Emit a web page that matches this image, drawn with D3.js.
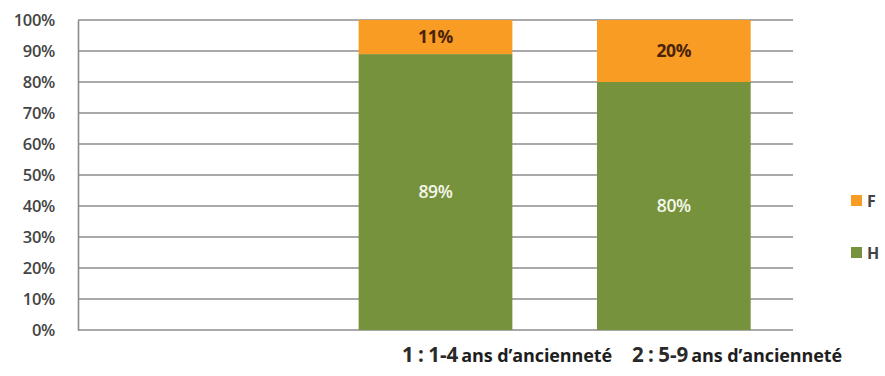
<!DOCTYPE html>
<html>
<head>
<meta charset="utf-8">
<script src="https://cdn.jsdelivr.net/npm/d3@7"></script>
<style>
  html, body { margin: 0; padding: 0; background: #fff; }
  svg { display: block; }
</style>
</head>
<body>
<svg id="chart" width="885" height="376"></svg>
<script>
// Categories (the first slot is empty) and stacked shares per sex
const categories = ["", "1", "2"];
const hommes = [null, 89, 80];
const femmes = [null, 11, 20];
const yTicks = [0, 10, 20, 30, 40, 50, 60, 70, 80, 90, 100];
const seriesNames = ["F", "H"];
const seriesColors = ["#f89c24", "#77923d"];
const xLabels = [
  { cat: "1", strong: "1 : 1-4", rest: "ans d\u2019anciennet\u00e9" },
  { cat: "2", strong: "2 : 5-9", rest: "ans d\u2019anciennet\u00e9" }
];

const svg = d3.select("#chart");
const margin = { left: 78, right: 92, top: 20, bottom: 46 };
const W = 885, H = 376;
const fontFam = "'Open Sans', 'DejaVu Sans', sans-serif";

const x = d3.scaleBand()
  .domain(categories)
  .range([margin.left, W - margin.right])
  .paddingInner(0.355)
  .paddingOuter(0.1775);

const y = d3.scaleLinear()
  .domain([0, 100])
  .range([H - margin.bottom, margin.top]);

// Horizontal gridlines
svg.append("g")
  .selectAll("line")
  .data(yTicks)
  .join("line")
  .attr("x1", margin.left)
  .attr("x2", W - margin.right)
  .attr("y1", d => y(d))
  .attr("y2", d => y(d))
  .attr("stroke", "#8c8c8c")
  .attr("stroke-width", 1.6);

// Left axis with percent labels
const yAxis = d3.axisLeft(y)
  .tickValues(yTicks)
  .tickFormat(d => d + "%")
  .tickSize(0)
  .tickPadding(23);

const gy = svg.append("g")
  .attr("transform", `translate(${margin.left},0)`)
  .call(yAxis);
gy.select(".domain").attr("stroke", "#8c8c8c").attr("stroke-width", 1.6);
gy.selectAll("text")
  .attr("font-family", fontFam)
  .attr("font-size", 16.5)
  .attr("font-weight", 600)
  .attr("letter-spacing", -0.3)
  .attr("fill", "#444");

// Stacked bars
const rows = categories.map((c, i) => ({ cat: c, H: hommes[i], F: femmes[i] }))
  .filter(r => r.H !== null);
const stack = d3.stack().keys(["H", "F"])(rows);
const colorOf = { F: seriesColors[0], H: seriesColors[1] };

stack.forEach(layer => {
  svg.append("g")
    .selectAll("rect")
    .data(layer)
    .join("rect")
    .attr("x", d => x(d.data.cat))
    .attr("width", x.bandwidth())
    .attr("y", d => y(d[1]))
    .attr("height", d => y(d[0]) - y(d[1]))
    .attr("fill", colorOf[layer.key]);

  svg.append("g")
    .selectAll("text")
    .data(layer)
    .join("text")
    .attr("x", d => x(d.data.cat) + x.bandwidth() / 2)
    .attr("y", d => (y(d[0]) + y(d[1])) / 2)
    .attr("dy", "0.35em")
    .attr("text-anchor", "middle")
    .attr("font-family", fontFam)
    .attr("font-size", 17.5)
    .attr("font-weight", layer.key === "F" ? 700 : 600)
    .attr("letter-spacing", -0.3)
    .attr("fill", layer.key === "F" ? "#4a2308" : "#f4f8ea")
    .text(d => d.data[layer.key] + "%");
});

// Legend
const legend = svg.append("g");
const legendY = [201, 253];
seriesNames.forEach((name, i) => {
  legend.append("rect")
    .attr("x", 851).attr("y", legendY[i] - 6)
    .attr("width", 11).attr("height", 11)
    .attr("fill", seriesColors[i]);
  legend.append("text")
    .attr("x", 867).attr("y", legendY[i])
    .attr("dy", "0.35em")
    .attr("font-family", fontFam)
    .attr("font-size", 16)
    .attr("font-weight", 700)
    .attr("fill", "#444")
    .text(name);
});

// Category captions under the plot
const caps = svg.append("g");
xLabels.forEach((l, i) => {
  const startX = i === 0 ? 402 : 632;
  const t = caps.append("text")
    .attr("x", startX)
    .attr("y", 362)
    .attr("font-family", fontFam)
    .attr("fill", "#1e1e1e");
  t.append("tspan")
    .attr("font-size", 20.5)
    .attr("font-weight", 700)
    .attr("word-spacing", -1)
    .attr("fill", "#2a2a2a")
    .text(l.strong);
  t.append("tspan")
    .attr("dx", 3)
    .attr("font-size", 18)
    .attr("font-weight", 700)
    .attr("letter-spacing", -0.1)
    .text(l.rest);
});
</script>
</body>
</html>
